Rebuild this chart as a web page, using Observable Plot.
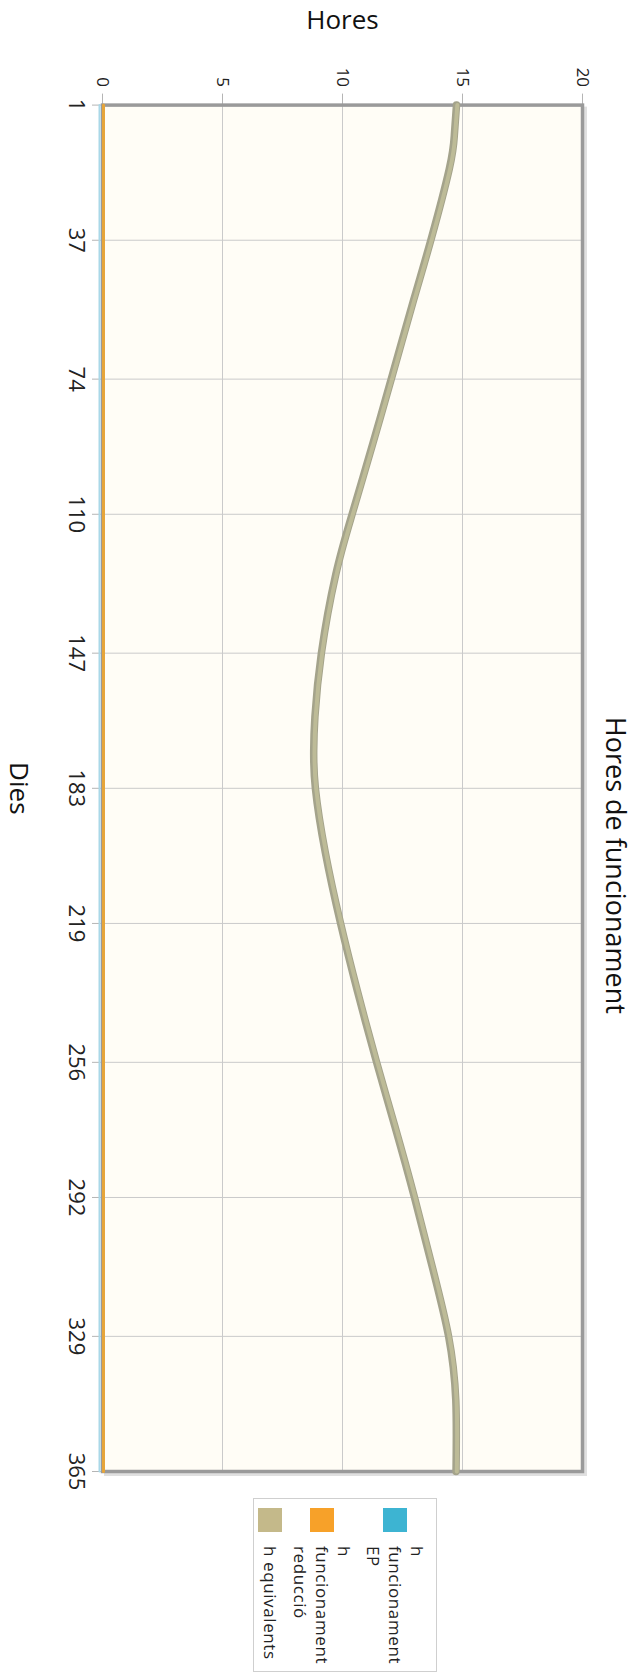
<!DOCTYPE html>
<html><head><meta charset="utf-8">
<script src="https://cdn.jsdelivr.net/npm/d3@7"></script>
<script src="https://cdn.jsdelivr.net/npm/@observablehq/plot@0.6"></script>
<style>
html,body{margin:0;padding:0;background:#fff;overflow:hidden;width:635px;height:1674px}
#rot{position:absolute;left:0;top:0;width:1674px;height:635px;transform-origin:0 0;transform:translate(635px,0) rotate(90deg);}
#legend{position:absolute;left:1498px;top:198px;width:174px;height:184px;box-sizing:border-box;border:1px solid #cfcfcf;background:#fff;
  font-family:"Open Sans",sans-serif;font-size:17px;letter-spacing:0.6px;color:#222;padding:8px 0 0 9px}
.row{display:flex;align-items:center;margin-bottom:7px}
.sw{width:24px;height:24px;flex:none;margin-right:14px}
.lb{line-height:22px}
</style></head><body><div id="rot"></div>
<script>
// Days of the year and hours
const days = [1, 9, 18, 37, 53, 74, 91, 110, 126, 147, 164, 173, 183, 200, 219, 237, 256, 273, 292, 311, 329, 346, 365];
const hEquivalents = [14.75, 14.66, 14.45, 13.68, 12.96, 12.03, 11.27, 10.40, 9.72, 9.12, 8.85, 8.80, 8.87, 9.28, 9.92, 10.62, 11.42, 12.18, 13.0, 13.76, 14.42, 14.72, 14.73];
const flatDays = [1, 365];
const hEP = [0, 0];
const hReduccio = [0, 0];

const dayTicks = [1, 37, 74, 110, 147, 183, 219, 256, 292, 329, 365];
const hourTicks = [0, 5, 10, 15, 20];

const seriesNames = [["h", "funcionament", "EP"], ["h", "funcionament", "reducció"], ["h equivalents"]];
const seriesColors = ["#3db4d2", "#f7a129", "#c4b98a"];

const title = "Hores de funcionament";
const xLabel = "Dies";
const yLabel = "Hores";

const equivData = days.map((d, i) => ({day: d, h: hEquivalents[i]}));
const epData = flatDays.map((d, i) => ({day: d, h: hEP[i]}));
const redData = flatDays.map((d, i) => ({day: d, h: hReduccio[i]}));

const chart = Plot.plot({
  width: 1674, height: 635,
  marginLeft: 104.6, marginRight: 203, marginTop: 52, marginBottom: 103,
  style: {fontFamily: "'Open Sans', sans-serif", background: "transparent", color: "#222"},
  x: {domain: [1, 365], axis: null},
  y: {domain: [0, 20], axis: null},
  marks: [
    Plot.frame({fill: "#fffdf6", stroke: "#e0e0e0", strokeWidth: 3, dx: 3, dy: -3}),
    Plot.frame({fill: "#fffdf6"}),
    Plot.gridX(dayTicks, {stroke: "#cacaca", strokeOpacity: 1, strokeWidth: 1}),
    Plot.gridY(hourTicks, {stroke: "#cacaca", strokeOpacity: 1, strokeWidth: 1}),
    Plot.axisX(dayTicks, {anchor: "bottom", tickSize: 11, tickPadding: 7, fontSize: 22, stroke: "#b5b5b5", fill: "#222", label: null, tickFormat: d => d}),
    Plot.axisY(hourTicks, {anchor: "left", tickSize: 11, tickPadding: 7, fontSize: 17, stroke: "#b5b5b5", fill: "#222", label: null}),
    Plot.frame({stroke: "#9a9a9a", strokeWidth: 3.5}),
    Plot.line(epData, {x: "day", y: "h", stroke: "#a9d8e8", strokeWidth: 2, dy: 3}),
    Plot.line(redData, {x: "day", y: "h", stroke: "#e6a53a", strokeWidth: 3, dy: -1}),
    Plot.line(equivData, {x: "day", y: "h", stroke: "#a4a38b", strokeWidth: 7.5, curve: "natural"}),
    Plot.line(equivData, {x: "day", y: "h", stroke: "#bdbb97", strokeWidth: 4, curve: "natural", dy: -0.8}),
    Plot.text([yLabel], {frameAnchor: "left", textAnchor: "middle", lineAnchor: "middle", dx: -84, rotate: -90, fontSize: 26, fill: "#111"}),
    Plot.text([xLabel], {frameAnchor: "bottom", textAnchor: "middle", lineAnchor: "middle", dy: 84, fontSize: 26, fill: "#111"}),
    Plot.text([title], {frameAnchor: "top", textAnchor: "middle", lineAnchor: "middle", dx: 77, dy: -32, fontSize: 27, fill: "#111"})
  ]
});

const rot = document.getElementById("rot");
rot.appendChild(chart);

const legend = document.createElement("div");
legend.id = "legend";
seriesNames.forEach((lines, i) => {
  const row = document.createElement("div");
  row.className = "row";
  const sw = document.createElement("div");
  sw.className = "sw";
  sw.style.background = seriesColors[i];
  const lb = document.createElement("div");
  lb.className = "lb";
  lines.forEach((t, j) => {
    if (j) lb.appendChild(document.createElement("br"));
    lb.appendChild(document.createTextNode(t));
  });
  row.appendChild(sw);
  row.appendChild(lb);
  legend.appendChild(row);
});
rot.appendChild(legend);
</script>
</body></html>
